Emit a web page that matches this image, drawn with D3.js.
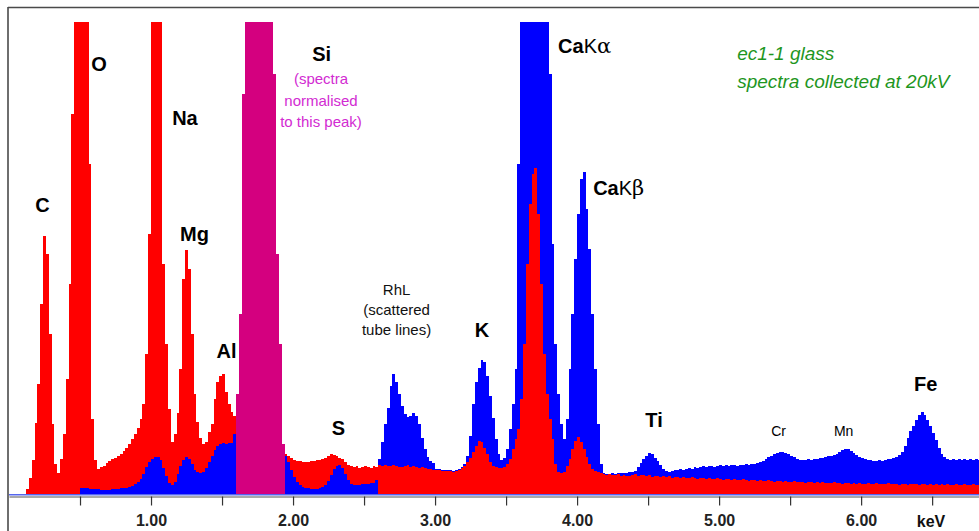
<!DOCTYPE html>
<html>
<head>
<meta charset="utf-8">
<script src="https://cdn.jsdelivr.net/npm/d3@7"></script>
<style>
  body { margin: 0; background: #fff; }
  svg { display: block; font-family: "Liberation Sans", Arial, sans-serif; }
</style>
</head>
<body>
<div id="chart"></div>
<script>
// spectra binned at 0.02 keV, first channel starts at 0 keV
var channelWidth = 0.02;

// red spectrum (counts, scaled so the Si peak matches)
var redCounts = [
  0, 0, 0, 0, 0, 0, 5, 16, 34, 71,
  110, 190, 258, 240, 160, 70, 30, 21, 35, 60,
  115, 210, 380, 900, 1100, 1150, 1050, 800, 330, 75,
  34, 25, 27, 28, 31, 33, 35, 36, 38, 40,
  43, 46, 50, 55, 60, 66, 75, 90, 140, 260,
  600, 1000, 1050, 700, 230, 150, 85, 52, 60, 81,
  125, 215, 244, 225, 160, 100, 72, 56, 50, 52,
  62, 70, 95, 112, 118, 120, 102, 90, 82, 78,
  100, 180, 400, 600, 900, 1200, 1400, 1500, 1450, 1300,
  1000, 800, 560, 420, 240, 150, 50, 40, 38, 36,
  34, 33, 33, 32, 32, 32, 33, 33, 34, 34,
  35, 36, 38, 40, 39, 38, 36, 35, 32, 29,
  28, 27, 28, 26, 27, 28, 27, 26, 28, 27,
  29, 28, 29, 28, 28, 29, 28, 27, 27, 28,
  29, 27, 28, 27, 26, 27, 26, 25, 25, 24,
  24, 24, 23, 23, 23, 23, 22, 23, 24, 26,
  28, 32, 36, 42, 48, 53, 52, 46, 40, 32,
  28, 27, 26, 26, 27, 30, 35, 45, 55, 65,
  95, 150, 230, 290, 320, 326, 280, 210, 140, 100,
  75, 55, 30, 22, 21, 22, 28, 35, 45, 53,
  57, 52, 45, 37, 30, 25, 23, 22, 21, 20,
  19, 20, 19, 19, 20, 18, 19, 18, 18, 19,
  20, 18, 19, 19, 18, 19, 17, 18, 18, 17,
  18, 17, 18, 16, 17, 17, 16, 17, 16, 16,
  17, 16, 15, 16, 16, 15, 16, 15, 15, 16,
  15, 14, 15, 15, 14, 15, 14, 14, 15, 14,
  13, 14, 14, 13, 14, 13, 13, 14, 13, 12,
  13, 13, 12, 13, 12, 12, 13, 12, 12, 12,
  11, 12, 12, 11, 12, 11, 12, 11, 11, 11,
  12, 11, 11, 10, 11, 11, 10, 11, 10, 11,
  10, 10, 11, 10, 10, 11, 10, 10, 10, 11,
  10, 10, 10, 9, 10, 10, 9, 10, 10, 10,
  9, 10, 10, 9, 10, 9, 10, 9, 10, 9,
  10, 9, 9, 10, 9, 9, 10, 9, 9, 10,
  9, 9
];

// blue spectrum
var blueCounts = [
  0, 0, 0, 0, 0, 0, 0, 0, 0, 0,
  0, 0, 0, 0, 0, 0, 0, 0, 0, 0,
  0, 0, 0, 0, 0, 6, 6, 6, 5, 5,
  5, 5, 4, 4, 4, 4, 5, 5, 5, 6,
  6, 6, 7, 8, 10, 12, 15, 20, 27, 32,
  35, 37, 37, 34, 26, 18, 11, 9, 12, 20,
  28, 34, 37, 35, 30, 24, 22, 21, 22, 26,
  32, 38, 44, 48, 50, 51, 50, 51, 51, 60,
  100, 180, 400, 600, 900, 1200, 1400, 1500, 1450, 1300,
  1000, 800, 560, 420, 240, 150, 50, 38, 32, 24,
  17, 12, 9, 7, 6, 6, 5, 5, 5, 6,
  7, 9, 13, 19, 25, 28, 29, 26, 20, 14,
  10, 9, 9, 9, 10, 10, 10, 11, 11, 14,
  35, 52, 70, 86, 108, 120, 112, 100, 88, 80,
  77, 78, 81, 78, 70, 56, 45, 37, 33, 31,
  25, 25, 24, 24, 24, 24, 23, 24, 25, 27,
  30, 38, 58, 90, 112, 126, 134, 132, 118, 98,
  76, 55, 40, 34, 36, 45, 65, 90, 125, 330,
  700, 1000, 1200, 1300, 1350, 1380, 1300, 1200, 1000, 800,
  420, 250, 150, 100, 70, 55, 75, 125, 180, 235,
  280, 315, 322, 285, 245, 180, 125, 70, 30, 21,
  20, 20, 21, 20, 21, 21, 21, 21, 22, 22,
  23, 27, 31, 35, 38, 41, 40, 36, 33, 29,
  25, 23, 22, 23, 24, 24, 25, 24, 25, 26,
  25, 27, 26, 27, 28, 27, 28, 28, 27, 28,
  29, 28, 29, 28, 29, 29, 28, 29, 29, 30,
  29, 30, 30, 31, 32, 33, 35, 37, 38, 40,
  41, 42, 42, 41, 40, 38, 37, 35, 34, 34,
  34, 35, 34, 35, 35, 36, 36, 37, 38, 38,
  39, 40, 42, 44, 45, 45, 43, 41, 39, 37,
  36, 35, 34, 34, 33, 33, 34, 33, 34, 35,
  35, 36, 37, 39, 42, 48, 56, 63, 68, 74,
  79, 82, 79, 74, 68, 61, 54, 46, 40, 37,
  35, 34, 35, 34, 35, 34, 35, 34, 35, 34,
  35, 34
];

// Si window: both spectra normalised here, shown as one magenta peak
var siWindow = [1.60, 1.94];

var tickValues = [0.5, 1, 1.5, 2, 2.5, 3, 3.5, 4, 4.5, 5, 5.5, 6, 6.5];

// element labels, placed in keV / counts
var peakLabels = [
  {name: "C", keV: 0.236, counts: 282},
  {name: "O", keV: 0.634, counts: 423},
  {name: "Na", keV: 1.239, counts: 369},
  {name: "Mg", keV: 1.306, counts: 253},
  {name: "Al", keV: 1.532, counts: 136},
  {name: "Si", keV: 2.201, counts: 433},
  {name: "S", keV: 2.320, counts: 59},
  {name: "K", keV: 3.331, counts: 157},
  {name: "Ti", keV: 4.542, counts: 67},
  {name: "Fe", keV: 6.454, counts: 103}
];
var minorLabels = [
  {name: "Cr", keV: 5.419, counts: 58},
  {name: "Mn", keV: 5.877, counts: 58}
];
var caLabels = [
  {line: "\u03b1", keV: 3.866, counts: 441},
  {line: "\u03b2", keV: 4.113, counts: 299}
];
var rhNote = {lines: ["RhL", "(scattered", "tube lines)"], keV: 2.729, counts: [199, 179, 159]};
var siNote = {lines: ["(spectra", "normalised", "to this peak)"], keV: 2.197, counts: [410, 388, 367]};
var titleNote = {lines: ["ec1-1 glass", "spectra collected at 20kV"], keV: 5.127, counts: [434, 406]};

var width = 979;
var height = 531;
var red = "#ff0000", blue = "#0000ff", magenta = "#d4007f";

var svg = d3.select("#chart").append("svg")
  .attr("width", width)
  .attr("height", height);

var x = d3.scaleLinear().domain([0, 6.83]).range([9, 979]);
var y = d3.scaleLinear().domain([0, 472]).range([494, 22]).clamp(true);

var energies = redCounts.map(function(d, i) { return +(i * channelWidth).toFixed(2); });

// frame
svg.append("line")
  .attr("x1", 8).attr("x2", width).attr("y1", 7.5).attr("y2", 7.5)
  .style("stroke", "#4a4a4a").style("stroke-width", 1.6);
svg.append("line")
  .attr("x1", 8).attr("x2", 8).attr("y1", 7).attr("y2", height)
  .style("stroke", "#4a4a4a").style("stroke-width", 1.6);

// baseline of the blue spectrum
svg.append("line")
  .attr("x1", 9).attr("x2", width).attr("y1", 494.8).attr("y2", 494.8)
  .style("stroke", "#5566ee").style("stroke-width", 1.4);

// per channel: taller spectrum first, the lower one painted over it
var bars = [];
energies.forEach(function(e, i) {
  var r = redCounts[i], b = blueCounts[i];
  if (e >= siWindow[0] - 1e-6 && e < siWindow[1] - 1e-6) {
    bars.push({e: e, v: r, c: magenta});
    return;
  }
  if (r > b) {
    bars.push({e: e, v: r, c: red});
    bars.push({e: e, v: b, c: blue});
  } else {
    bars.push({e: e, v: b, c: blue});
    bars.push({e: e, v: r, c: red});
  }
});

svg.append("g")
  .attr("shape-rendering", "crispEdges")
  .selectAll("rect")
  .data(bars.filter(function(d) { return d.v > 0; }))
  .enter()
  .append("rect")
  .attr("x", function(d) { return Math.round(x(d.e)); })
  .attr("width", function(d) { return Math.round(x(d.e + channelWidth)) - Math.round(x(d.e)); })
  .attr("y", function(d) { return Math.round(y(d.v)); })
  .attr("height", function(d) { return 494 - Math.round(y(d.v)); })
  .style("fill", function(d) { return d.c; });

// axis
var xAxis = d3.axisBottom(x)
  .tickValues(tickValues)
  .tickSize(9)
  .tickSizeOuter(0)
  .tickPadding(9)
  .tickFormat(function(d) { return d % 1 === 0 ? d.toFixed(2) : ""; });

var axisG = svg.append("g")
  .attr("transform", "translate(0,496.5)")
  .call(xAxis);
axisG.select(".domain").style("stroke", "#555").style("stroke-width", 1.2);
axisG.selectAll(".tick line").style("stroke", "#333").style("stroke-width", 1.2);
axisG.selectAll(".tick text")
  .style("font-family", "'Liberation Sans', Arial, sans-serif")
  .style("font-size", "16px")
  .style("font-weight", "bold")
  .style("fill", "#222");

svg.append("text")
  .attr("x", 931).attr("y", 527)
  .style("text-anchor", "middle")
  .style("font-size", "16px")
  .style("font-weight", "bold")
  .style("fill", "#111")
  .text("keV");

// labels
svg.selectAll("text.peak")
  .data(peakLabels)
  .enter()
  .append("text")
  .attr("class", "peak")
  .attr("x", function(d) { return x(d.keV); })
  .attr("y", function(d) { return y(d.counts); })
  .style("text-anchor", "middle")
  .style("font-size", "20px")
  .style("font-weight", "bold")
  .style("fill", "#000")
  .text(function(d) { return d.name; });

svg.selectAll("text.minor")
  .data(minorLabels)
  .enter()
  .append("text")
  .attr("class", "minor")
  .attr("x", function(d) { return x(d.keV); })
  .attr("y", function(d) { return y(d.counts); })
  .style("text-anchor", "middle")
  .style("font-size", "14px")
  .style("fill", "#000")
  .text(function(d) { return d.name; });

var ca = svg.selectAll("text.ca")
  .data(caLabels)
  .enter()
  .append("text")
  .attr("class", "ca")
  .attr("x", function(d) { return x(d.keV); })
  .attr("y", function(d) { return y(d.counts); })
  .style("font-size", "20px")
  .style("fill", "#000");
ca.append("tspan").style("font-weight", "bold").text("Ca");
ca.append("tspan").text("K");
ca.append("tspan").style("font-family", "'DejaVu Serif', serif").style("font-size", "21px")
  .text(function(d) { return d.line; });

function note(n, size, color, anchor, italic) {
  svg.append("g").selectAll("text")
    .data(n.lines)
    .enter()
    .append("text")
    .attr("x", x(n.keV))
    .attr("y", function(d, i) { return y(n.counts[i]); })
    .style("text-anchor", anchor)
    .style("font-size", size)
    .style("font-style", italic ? "italic" : "normal")
    .style("fill", color)
    .text(function(d) { return d; });
}
note(rhNote, "15px", "#111", "middle", false);
note(siNote, "15px", "#d22bd2", "middle", false);
note(titleNote, "19px", "#1e961e", "start", true);
</script>
</body>
</html>
